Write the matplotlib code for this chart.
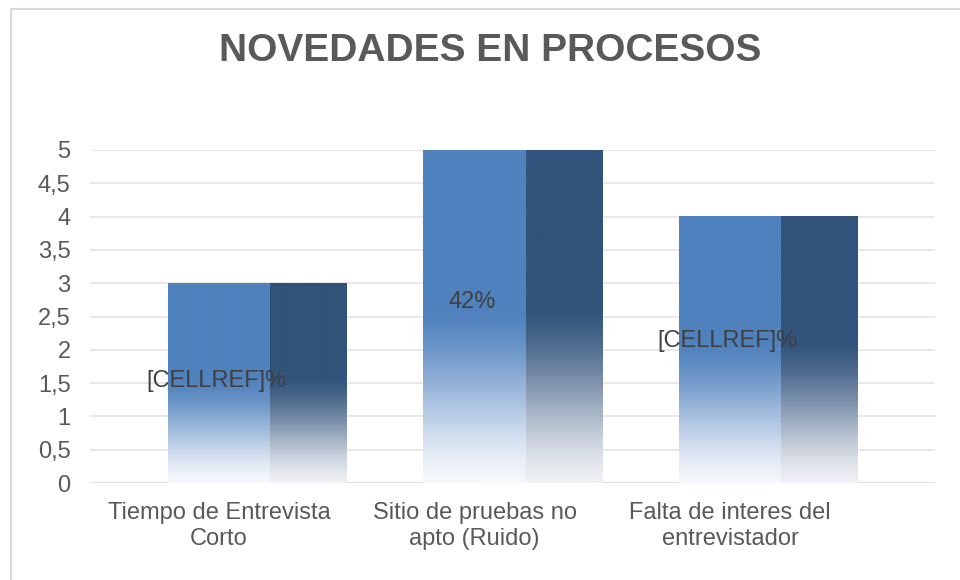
import matplotlib.pyplot as plt
from matplotlib.patches import Rectangle
import numpy as np

plt.rcParams['font.family'] = ['Liberation Sans', 'DejaVu Sans']

# chart data
categories = ['Tiempo de Entrevista\nCorto', 'Sitio de pruebas no\napto (Ruido)',
              'Falta de interes del\nentrevistador']
values = [3, 5, 4]
data_labels = ['[CELLREF]%', '42%', '[CELLREF]%']
label_pos = [1.53, 2.72, 2.13]   # vertical position of the data labels
yticks = np.arange(0, 5.01, 0.5)

front_col = np.array([79, 129, 189]) / 255
side_col = np.array([50, 84, 124]) / 255
front_low = np.array([246, 248, 252]) / 255
side_low = np.array([240, 241, 245]) / 255


def gradient(top, low, n=300, start=0.52):
    # rows go bottom -> top, smooth fade to solid colour above `start`
    f = np.clip(np.linspace(0, 1, n) / start, 0, 1)
    t = f * f * (3 - 2 * f)
    t = 0.5 * t + 0.5 * f
    rgb = low[None, :] + t[:, None] * (top - low)[None, :]
    return rgb[:, None, :]


fig = plt.figure(figsize=(9.6, 5.8), dpi=100)
ax = fig.add_axes([90 / 960, (580 - 483) / 580, 845 / 960, 333 / 580])

x = np.arange(len(categories))
for xi, v in zip(x, values):
    ax.imshow(gradient(front_col, front_low), extent=(xi - 0.2, xi + 0.2, 0, v),
              origin='lower', aspect='auto', zorder=3, interpolation='bilinear')
    ax.imshow(gradient(side_col, side_low), extent=(xi + 0.2, xi + 0.5, 0, v),
              origin='lower', aspect='auto', zorder=3, interpolation='bilinear')

for xi, lab, ly in zip(x, data_labels, label_pos):
    ax.text(xi - 0.01, ly, lab, ha='center', va='center', fontsize=17, color='#404040', zorder=5)

ax.set_xlim(-0.505, 2.802)
ax.set_ylim(0, 5)
ax.set_yticks(yticks)
ax.set_yticklabels([('%g' % t).replace('.', ',') for t in yticks])
ax.set_xticks(x)
ax.set_xticklabels(categories, linespacing=1.2)
ax.tick_params(axis='both', length=0, labelsize=17, labelcolor='#595959')
ax.tick_params(axis='y', pad=14)
ax.tick_params(axis='x', pad=14)
for s in ax.spines.values():
    s.set_visible(False)
ax.set_axisbelow(True)
ax.yaxis.grid(True, color='#e8e8e8', linewidth=1.4)
ax.axhline(0, color='#e0e0e0', linewidth=1.6, zorder=1)

fig.text(490 / 960, 1 - 51 / 580, 'NOVEDADES EN PROCESOS', ha='center', va='center',
         fontsize=28, fontweight='bold', color='#595959')

fig.patches.append(Rectangle((11 / 960, -0.05), 1.2, 1 - 9 / 580 + 0.05,
                             transform=fig.transFigure, fill=False,
                             edgecolor='#d9d9d9', linewidth=1.5))

fig.savefig('out.png', dpi=100)
